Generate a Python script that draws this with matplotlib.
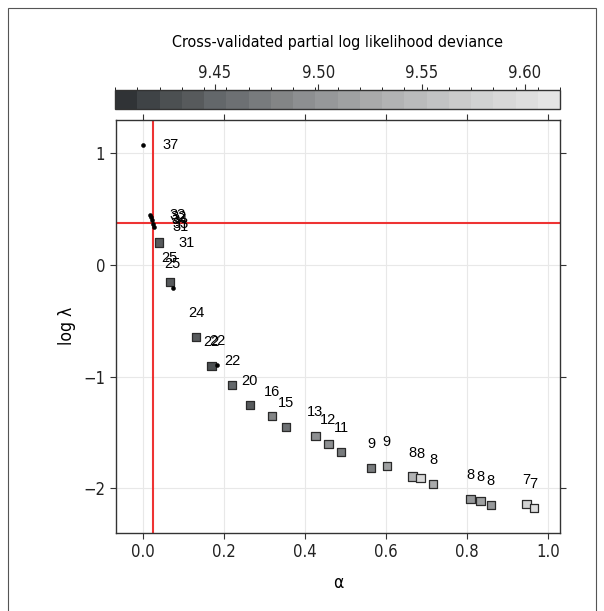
import matplotlib
matplotlib.use("Agg")
import matplotlib.pyplot as plt
import matplotlib.colors as mcolors
import matplotlib.cm as cm
from matplotlib import font_manager
import numpy as np

# optimal (alpha, log lambda) per alpha, CV deviance and number of nonzero coefs
alpha = [0.000, 0.018, 0.020, 0.023, 0.025, 0.026, 0.040, 0.066, 0.073, 0.131,
         0.169, 0.183, 0.220, 0.264, 0.318, 0.353, 0.426, 0.458, 0.489, 0.563,
         0.602, 0.666, 0.685, 0.717, 0.809, 0.834, 0.859, 0.947, 0.965]
log_lambda = [1.07, 0.45, 0.43, 0.40, 0.37, 0.34, 0.20, -0.15, -0.21, -0.645,
              -0.904, -0.895, -1.074, -1.256, -1.352, -1.448, -1.531, -1.605, -1.677, -1.815,
              -1.80, -1.895, -1.91, -1.963, -2.098, -2.113, -2.149, -2.142, -2.175]
deviance = [9.41, 9.41, 9.41, 9.41, 9.41, 9.41, 9.44, 9.44, 9.41, 9.44,
            9.43, 9.41, 9.45, 9.44, 9.48, 9.465, 9.49, 9.49, 9.475, 9.47,
            9.52, 9.54, 9.59, 9.525, 9.50, 9.52, 9.50, 9.575, 9.605]
nzero = [37, 33, 32, 34, 33, 31, 31, 25, 25, 24,
         22, 22, 22, 20, 16, 15, 13, 12, 11, 9,
         9, 8, 8, 8, 8, 8, 8, 7, 7]
kind = ["dot"] * 6 + ["square", "square", "dot", "square", "square", "dot"] + ["square"] * 17
label_side = ["right"] * 7 + ["above"] * 22

best_alpha = 0.025
best_log_lambda = 0.38

dev_lo, dev_hi = 9.4016, 9.617
cbar_ticks = [9.45, 9.50, 9.55, 9.60]

cell_colors = ["#303336", "#3f4346", "#4c5052", "#575a5c", "#63676a", "#6d7073",
               "#787b7d", "#838586", "#8d8f91", "#96989a", "#9fa1a2", "#a9aaab",
               "#b2b3b4", "#babbbc", "#c2c3c4", "#cacaca", "#d1d2d2", "#d8d8d8",
               "#dedede", "#e5e5e5"]
cmap = mcolors.ListedColormap(cell_colors)
bounds = np.linspace(dev_lo, dev_hi, len(cell_colors) + 1)
norm = mcolors.BoundaryNorm(bounds, cmap.N)

# condensed face for axis text, plain sans for the point labels
names = {f.name for f in font_manager.fontManager.ttflist}
if "Liberation Sans Narrow" in names:
    cond = dict(family="Liberation Sans Narrow")
else:
    cond = dict(family="DejaVu Sans", stretch="condensed")
arial = dict(family=["Liberation Sans", "Arial", "DejaVu Sans"])
axc = "#333333"

fig = plt.figure(figsize=(6.04, 6.11), dpi=100)
W, H = 604, 611

# outer frame
fig.patches.append(plt.Rectangle((8 / W, -0.01), 588 / W, 1 - 8 / H + 0.01,
                                 transform=fig.transFigure, fill=False,
                                 edgecolor="#555555", linewidth=0.8))

ax = fig.add_axes([115.5 / W, (H - 532.7) / H, 444.5 / W, 412.7 / H])
ax.set_xlim(-0.068, 1.030)
ax.set_ylim(-2.397, 1.298)
ax.set_xticks([0.0, 0.2, 0.4, 0.6, 0.8, 1.0])
ax.set_yticks([-2, -1, 0, 1])
ax.grid(True, color="#e8e8e8", linewidth=0.8)
ax.set_axisbelow(True)
for s in ax.spines.values():
    s.set_color(axc)
    s.set_linewidth(1.0)
ax.tick_params(direction="out", length=4, width=0.8, color=axc,
               top=True, right=True, labelsize=12, labelcolor="#222222")
ax.set_xticklabels(["0.0", "0.2", "0.4", "0.6", "0.8", "1.0"], **cond)
ax.set_yticklabels(["\u22122", "\u22121", "0", "1"], **cond)
ax.set_xlabel("\u03b1", fontsize=12.5, labelpad=9, **cond)
ax.set_ylabel("log \u03bb", fontsize=12.5, labelpad=5, **cond)

ax.axvline(best_alpha, color="#ee3333", linewidth=1.5, zorder=2)
ax.axhline(best_log_lambda, color="#ee3333", linewidth=1.5, zorder=2)

a = np.array(alpha)
l = np.array(log_lambda)
d = np.array(deviance)
k = np.array(kind)
sq = k == "square"
ax.scatter(a[sq], l[sq], c=d[sq], cmap=cmap, norm=norm, marker="s", s=36,
           edgecolors="#2a2a2a", linewidths=0.9, zorder=3)
ax.scatter(a[~sq], l[~sq], c="black", marker="o", s=8, edgecolors="black",
           linewidths=0.4, zorder=3)

for xi, yi, n, side in zip(alpha, log_lambda, nzero, label_side):
    off = (19.5, 0) if side == "right" else (0, 17.3)
    ax.annotate(str(n), (xi, yi), xytext=off, textcoords="offset points",
                ha="center", va="center", fontsize=10.5, zorder=4, **arial)

# colour key
cax = fig.add_axes([115 / W, (H - 109) / H, 445 / W, 19 / H])
cb = fig.colorbar(cm.ScalarMappable(norm=norm, cmap=cmap), cax=cax,
                  orientation="horizontal", ticks=cbar_ticks)
cb.outline.set_edgecolor(axc)
cb.outline.set_linewidth(1.0)
cax.xaxis.set_ticks_position("top")
cax.xaxis.set_label_position("top")
cax.tick_params(direction="out", length=4, width=0.8, color=axc, labelsize=12,
                labelcolor="#222222", pad=2)
cax.set_xticklabels(["%.2f" % t for t in cbar_ticks], **cond)
cax.set_xlim(dev_lo, dev_hi)
fig.text(337.5 / W, 1 - 42 / H, "Cross-validated partial log likelihood deviance",
         ha="center", va="center", fontsize=11.5, **cond)

fig.savefig("out.png", dpi=100)
